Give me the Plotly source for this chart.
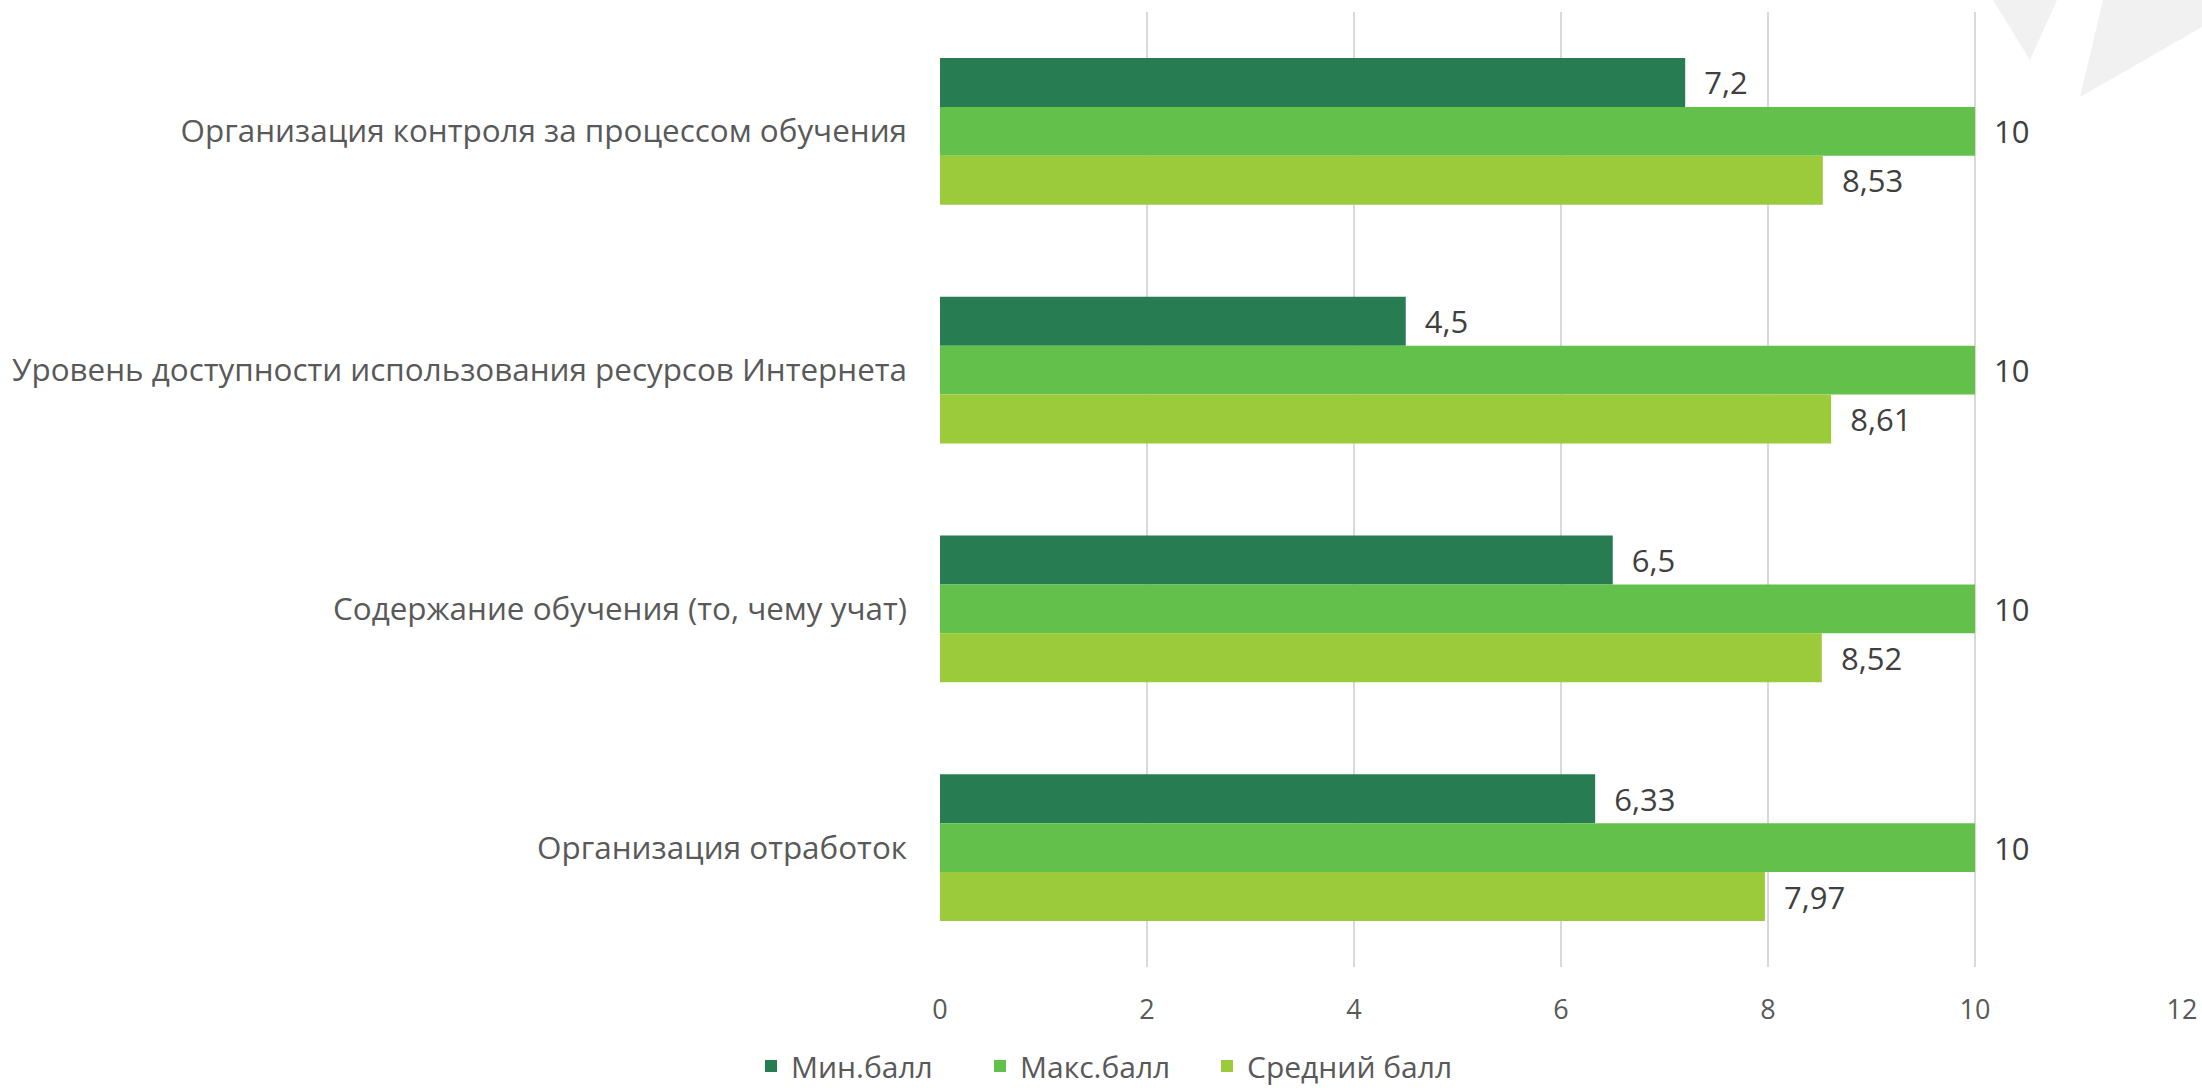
import plotly.graph_objects as go

categories = [
    "Организация контроля за процессом обучения",
    "Уровень доступности использования ресурсов Интернета",
    "Содержание обучения (то, чему учат)",
    "Организация отработок",
]
series_names = ["Мин.балл", "Макс.балл", "Средний балл"]
min_vals = [7.2, 4.5, 6.5, 6.33]
max_vals = [10, 10, 10, 10]
avg_vals = [8.53, 8.61, 8.52, 7.97]
tick_vals = [0, 2, 4, 6, 8, 10, 12]
colors = ["#277C52", "#63C14B", "#9BCB3A"]

FONT = "Open Sans"
W, H = 2202, 1091
L, R, T, B = 940, 20, 12, H - 967


def fmt(v):
    return "\u00a0\u00a0" + ("%g" % v).replace(".", ",")


def px_x(p):
    return (p - L) / (W - L - R)


def px_y(p):
    return (H - B - p) / (H - B - T)


legend_ids = ["legend", "legend2", "legend3"]
legend_left_px = [751, 980, 1207]

fig = go.Figure()
for name, vals, col, lg in zip(series_names, [min_vals, max_vals, avg_vals], colors, legend_ids):
    fig.add_trace(go.Bar(
        y=categories, x=vals, name=name, orientation="h",
        marker=dict(color=col, line=dict(width=0)),
        text=[fmt(v) for v in vals], textposition="outside",
        textfont=dict(family=FONT, size=31, color="#404040"),
        cliponaxis=False, legend=lg,
    ))

# decorative light-grey shapes in the top-right corner
tri = [(1993, 0), (2057, 0), (2030, 60)]
quad = [(2103, 0), (2202, 0), (2202, 27), (2080, 97)]
for poly in (tri, quad):
    path = "M " + " L ".join("%.4f %.4f" % (px_x(x), px_y(y)) for x, y in poly) + " Z"
    fig.add_shape(type="path", xref="paper", yref="paper", layer="below",
                  path=path, fillcolor="#F1F1F1", line=dict(width=0))

legend_common = dict(orientation="h", xref="container", yref="container",
                     xanchor="left", yanchor="middle", y=(H - 1066) / H,
                     font=dict(family=FONT, size=30, color="#595959"),
                     itemwidth=30, bgcolor="rgba(0,0,0,0)")

fig.update_layout(
    width=W, height=H,
    margin=dict(l=L, r=R, t=T, b=B, autoexpand=False),
    paper_bgcolor="white", plot_bgcolor="rgba(0,0,0,0)",
    barmode="group", bargap=0.385, bargroupgap=0,
    font=dict(family=FONT, color="#595959"),
    showlegend=True,
    legend=dict(x=legend_left_px[0] / W, **legend_common),
    legend2=dict(x=legend_left_px[1] / W, **legend_common),
    legend3=dict(x=legend_left_px[2] / W, **legend_common),
    xaxis=dict(range=[0, 12], tickvals=tick_vals, showgrid=True, gridcolor="#D9D9D9",
               gridwidth=2, zeroline=False, showline=False, ticks="",
               tickfont=dict(family=FONT, size=27, color="#595959"),
               ticklabelstandoff=24),
    yaxis=dict(autorange="reversed", showgrid=False, zeroline=False, showline=False,
               ticks="", ticklabelstandoff=32,
               tickfont=dict(family=FONT, size=31.4, color="#595959")),
)

fig.write_html(
    "out.html",
    config={"displayModeBar": False},
    post_script=(
        "document.body.style.margin='0';"
        "document.body.style.overflow='hidden';"
        "document.documentElement.style.overflow='hidden';"
        "var gd=document.getElementById('{plot_id}');"
        "gd.style.position='fixed';gd.style.left='0px';gd.style.top='0px';"
    ),
)
